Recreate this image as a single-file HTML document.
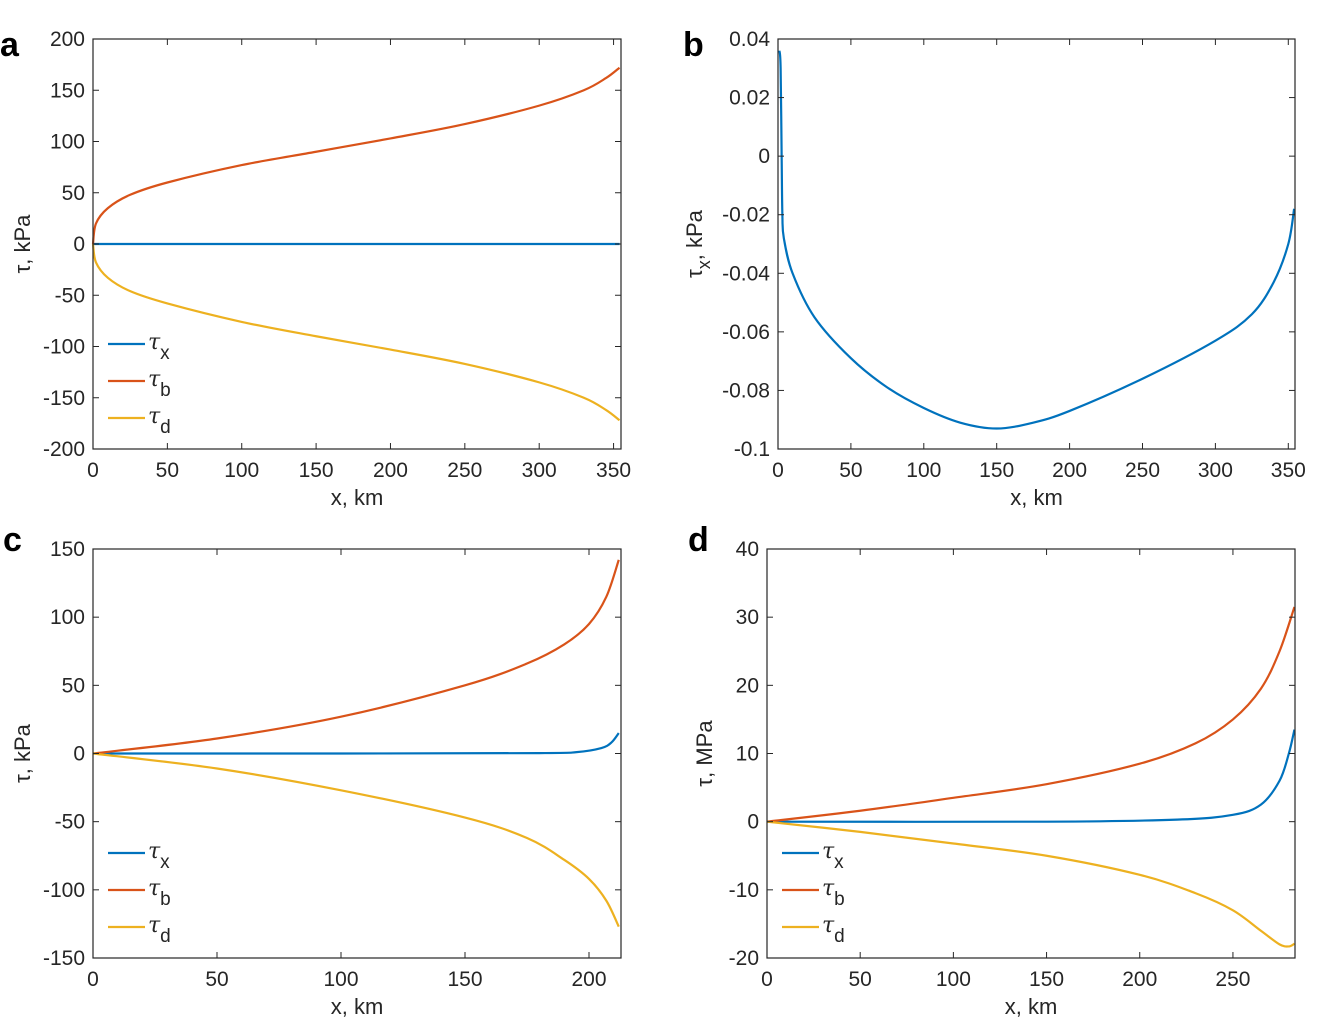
<!DOCTYPE html>
<html><head><meta charset="utf-8"><style>
body{margin:0;background:#fff}
svg{display:block;font-family:"Liberation Sans",Arial,sans-serif}
.tick{font-size:21px;fill:#262626}
.lab{font-size:22px;fill:#262626}
.let{font-size:34px;font-weight:bold;fill:#000}
</style></head><body>
<svg id="fig" width="1341" height="1021" viewBox="0 0 1341 1021"></svg>
<script>
// ---- Panel a data ----
const aBx=[0,2,10,25,50,100,150,200,250,300,330,345,354];
const aBy=[0,20,35,48,60,77,90,103,117,135,150,162,172];
const aDx=[0,2,10,25,50,100,150,200,250,300,330,345,354];
const aDy=[0,-18,-33,-46,-58,-76,-90,-103,-117,-135,-150,-162,-172];
const aXx=[0,354];
const aXy=[0,0];
// ---- Panel b data ----
const bXx=[1,1.8,2.5,3,4,10,25,50,75,100,125,150,175,200,250,300,325,340,350,354];
const bXy=[0.036,0.03,0,-0.02,-0.028,-0.04,-0.055,-0.069,-0.079,-0.086,-0.091,-0.093,-0.091,-0.087,-0.076,-0.063,-0.054,-0.043,-0.03,-0.018];
// ---- Panel c data ----
const cBx=[0,50,100,150,175,190,200,207,212];
const cBy=[0,11,27,50,66,80,95,115,142];
const cDx=[0,50,100,150,175,190,200,207,212];
const cDy=[0,-11,-27,-47,-62,-78,-92,-108,-127];
const cXx=[0,100,180,195,205,209,212];
const cXy=[0,0,0.3,1,4,8,15];
// ---- Panel d data ----
const dBx=[0,50,100,150,200,230,250,265,275,283];
const dBy=[0,1.6,3.5,5.5,8.5,11.5,15,19.5,25,31.5];
const dDx=[0,50,100,150,200,230,250,265,275,280,283];
const dDy=[0,-1.5,-3.2,-5,-7.8,-10.5,-13,-16,-18,-18.3,-17.9];
const dXx=[0,150,220,250,265,275,280,283];
const dXy=[0,0,0.3,1,2.5,6,10,13.5];
// ticks
const aXT=[0,50,100,150,200,250,300,350], aYT=[-200,-150,-100,-50,0,50,100,150,200];
const bXT=[0,50,100,150,200,250,300,350], bYT=[-0.1,-0.08,-0.06,-0.04,-0.02,0,0.02,0.04];
const bYL=["-0.1","-0.08","-0.06","-0.04","-0.02","0","0.02","0.04"];
const cXT=[0,50,100,150,200], cYT=[-150,-100,-50,0,50,100,150];
const dXT=[0,50,100,150,200,250], dYT=[-20,-10,0,10,20,30,40];

const NS="http://www.w3.org/2000/svg";
const svg=document.getElementById('fig');
function el(t,a,p){const e=document.createElementNS(NS,t);for(const k in a)e.setAttribute(k,a[k]);(p||svg).appendChild(e);return e;}
const C={x:'#0072BD',b:'#D95319',d:'#EDB120'};

function panel(id,L,R,T,B,x0,x1,y0,y1,xt,yt,ytl,letter,lx,ly,ylab,ylx,series,legend){
  const g=el('g',{});
  
  
  const sx=v=>L+(v-x0)/(x1-x0)*(R-L), sy=v=>B-(v-y0)/(y1-y0)*(B-T);
  series.forEach(s=>{
    const xs=s[0],ys=s[1];
    const P=xs.map((x,i)=>[sx(x),sy(ys[i])]);
    let d='M'+P[0][0]+','+P[0][1];
    for(let i=0;i<P.length-1;i++){
      const p0=P[Math.max(i-1,0)],p1=P[i],p2=P[i+1],p3=P[Math.min(i+2,P.length-1)];
      const c1=[p1[0]+(p2[0]-p0[0])/6,p1[1]+(p2[1]-p0[1])/6];
      const c2=[p2[0]-(p3[0]-p1[0])/6,p2[1]-(p3[1]-p1[1])/6];
      d+=' C'+c1[0]+','+c1[1]+' '+c2[0]+','+c2[1]+' '+p2[0]+','+p2[1];
    }
    const pth=el('path',{d:d,fill:'none',stroke:C[s[2]],'stroke-width':2.2},g);
    
    
  });
  const bx=el('rect',{x:L,y:T,width:R-L,height:B-T,fill:'none',stroke:'#262626','stroke-width':1.2},g);
  
  
  xt.forEach(v=>{const X=sx(v);
    el('line',{x1:X,y1:B,x2:X,y2:B-6,stroke:'#262626'},g);el('line',{x1:X,y1:T,x2:X,y2:T+6,stroke:'#262626'},g);
    const t=el('text',{x:X,y:B+28,'text-anchor':'middle',class:'tick'},g);t.textContent=v;
    
    });
  yt.forEach((v,i)=>{const Y=sy(v);
    el('line',{x1:L,y1:Y,x2:L+6,y2:Y,stroke:'#262626'},g);el('line',{x1:R,y1:Y,x2:R-6,y2:Y,stroke:'#262626'},g);
    const t=el('text',{x:L-8,y:Y+7,'text-anchor':'end',class:'tick'},g);t.textContent=ytl?ytl[i]:v;
    
    });
  const xl=el('text',{x:(L+R)/2,y:B+56,'text-anchor':'middle',class:'lab'},g);xl.textContent='x, km';
  
  
  const yl=el('text',{x:ylx,y:(T+B)/2,'text-anchor':'middle',class:'lab',transform:'rotate(-90 '+ylx+' '+(T+B)/2+')'},g);
  yl.innerHTML=ylab;
  
  
  const lt=el('text',{x:lx,y:ly,class:'let'},g);lt.textContent=letter;
  
  
  if(legend){
    [['x',0],['b',1],['d',2]].forEach(([k,i])=>{
      const Y=legend[1]+i*37;
      const le=el('g',{},g);
      
      
      el('line',{x1:legend[0],y1:Y,x2:legend[0]+37,y2:Y,stroke:C[k],'stroke-width':2.2},le);
      const t=el('text',{x:legend[0]+40,y:Y+5,class:'lab'},le);
      t.innerHTML='<tspan font-style="italic" font-family="DejaVu Serif">τ</tspan><tspan dy="10" font-size="19">'+k+'</tspan>';
    });
  }
}
panel('a',93,621,39,449,0,355,-200,200,aXT,aYT,null,'a',0,56,'τ, kPa',30,
  [[aXx,aXy,'x'],[aBx,aBy,'b'],[aDx,aDy,'d']],[108,344]);
panel('b',778,1295,39,449,0,354.6,-0.1,0.04,bXT,bYT,bYL,'b',683,56,'τ<tspan dy="8" font-size="18">x</tspan><tspan dy="-8">, kPa</tspan>',702,
  [[bXx,bXy,'x']],null);
panel('c',93,621,549,958,0,212.9,-150,150,cXT,cYT,null,'c',3,551,'τ, kPa',30,
  [[cXx,cXy,'x'],[cBx,cBy,'b'],[cDx,cDy,'d']],[108,853]);
panel('d',767,1295,549,958,0,283.3,-20,40,dXT,dYT,null,'d',688,551,'τ, MPa',712,
  [[dXx,dXy,'x'],[dBx,dBy,'b'],[dDx,dDy,'d']],[782,853]);
</script>
</body></html>
